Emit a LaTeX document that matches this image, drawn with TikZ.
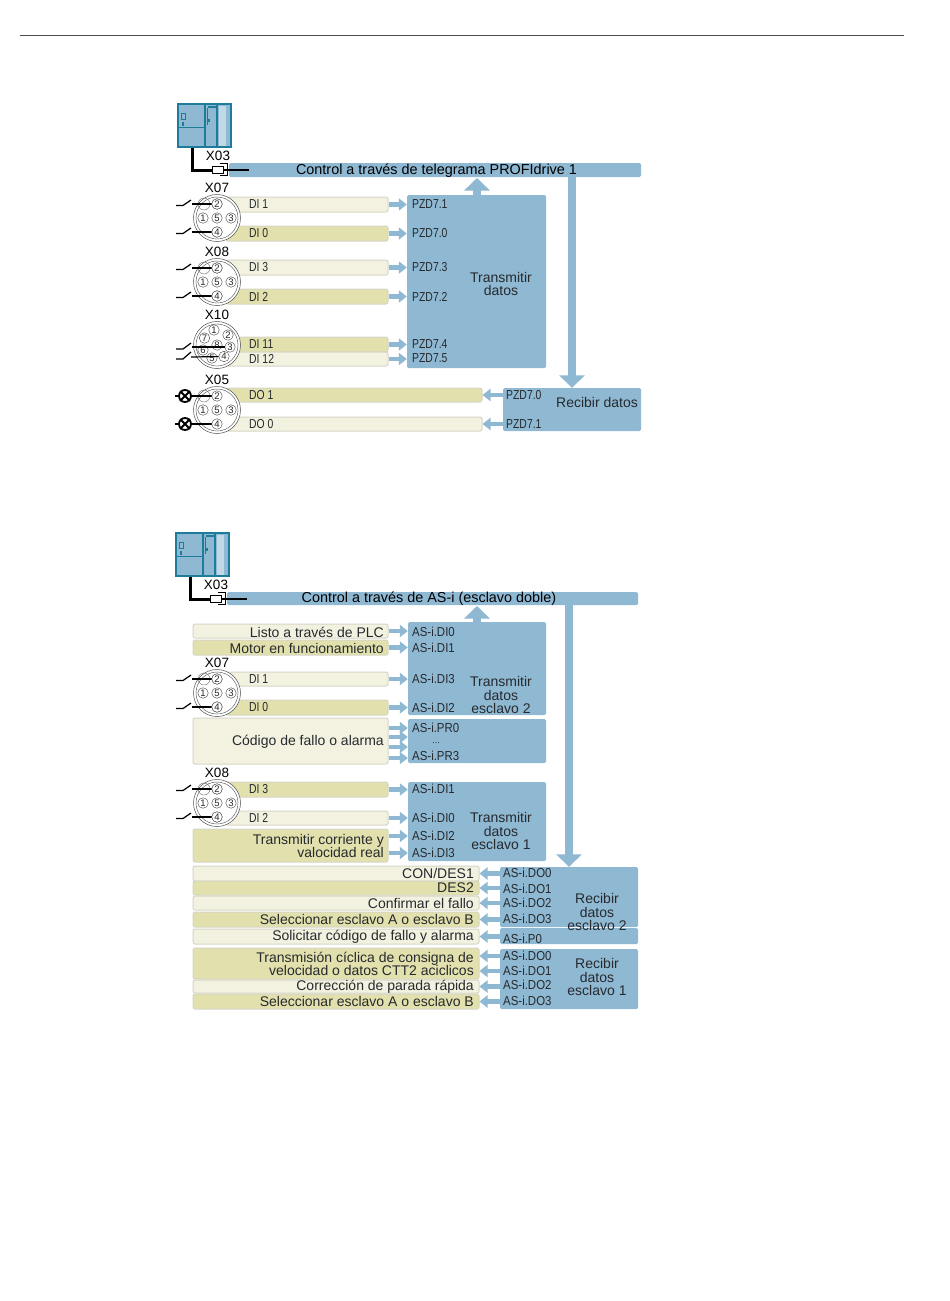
\documentclass[tikz,border=0pt]{standalone}
\usepackage{fontspec}
\setmainfont{Liberation Sans}
\newfontfamily\narrowf[FakeStretch=0.8]{Liberation Sans}
\newfontfamily\midf[FakeStretch=0.88]{Liberation Sans}
\usetikzlibrary{arrows.meta}
\definecolor{bblue}{HTML}{8FB8D2}
\definecolor{bteal}{HTML}{1C7C99}
\definecolor{lightbar}{HTML}{F3F2E0}
\definecolor{darkbar}{HTML}{E2E0AC}
\definecolor{barline}{HTML}{D6D6C8}
\definecolor{ink}{HTML}{262A2E}
\tikzset{
  x=1pt,y=-1pt,
  blue box/.style={fill=bblue,draw=none,rounded corners=1.5pt,inner sep=0pt},
  lbar/.style={fill=lightbar,draw=barline,line width=1pt,rounded corners=2pt,inner sep=0pt},
  dbar/.style={fill=darkbar,draw=barline,line width=1pt,rounded corners=2pt,inner sep=0pt},
  big/.style={text=ink,inner sep=0pt,font=\fontsize{14}{13.8}\selectfont,align=center},
  rtxt/.style={big,anchor=east,align=right},
  ctext/.style={text=black,inner sep=0pt,font=\fontsize{14.4}{14.4}\selectfont},
  ttl/.style={text=black,inner sep=0pt,font=\fontsize{13.5}{14}\selectfont},
  sml/.style={text=ink,inner sep=0pt,anchor=west,font=\narrowf\fontsize{13}{13}\selectfont},
  asl/.style={text=ink,inner sep=0pt,anchor=west,font=\midf\fontsize{13}{13}\selectfont},
  flow/.style={draw=bblue,line width=4.5pt,-{Triangle[width=12pt,length=8pt]},shorten >=0pt},
  fat/.style={draw=bblue,line width=8pt,-{Triangle[width=25pt,length=12.5pt]}},
  pin/.style={circle,draw=black!75,line width=.4pt,fill=white,inner sep=0pt,minimum size=10.5pt,text=black!85,font=\fontsize{9.5}{9.5}\selectfont},
  ring/.style={circle,draw=black!70,line width=.5pt,fill=white,inner sep=0pt},
  wire/.style={draw=black,line width=1.2pt},
  cable/.style={draw=black,line width=3pt},
}
% name, x1,y1,x2,y2, style
\newcommand{\bx}[6]{\node[#6,minimum width={(#4)-(#2)},minimum height={(#5)-(#3)},text width={}] (#1) at ({(#2+#4)/2},{(#3+#5)/2}) {};}
% switch ending at a pin
\newcommand{\swi}[3]{%name, pin, y
  \coordinate (#1) at (192,#3);
  \draw[wire] (176,#3+1.5) -- (183,#3+1.5) -- (191,#3-4);
  \draw[wire] (#1) -- (#2.center);
  \node[pin] at (#2) {};}
% lamp ending at a pin
\newcommand{\lamp}[3]{%name, pin, y
  \node[circle,draw=black,line width=1.8pt,minimum size=12pt,inner sep=0pt] (#1) at (185,#3) {};
  \draw[black,line width=1.8pt] (#1.north west) -- (#1.south east) (#1.north east) -- (#1.south west);
  \draw[wire] (175,#3) -- (#1.west);
  \draw[wire] (#1.east) -- (#2.center);}
% 5 pin connector: name, centre y, title
\newcommand{\fivepin}[3]{%
  \node[ring,minimum size=47pt] (#1) at (217,#2) {};
  \node[circle,draw=black!70,line width=.4pt,inner sep=0pt,minimum size=42pt] (#1i) at (217,#2) {};
  \draw[black!60,line width=.4pt] (204,#2-14) circle (6);
  \node[pin,draw=none,fill=none] (#1p2) at (217,#2-14) {};
  \node[pin] (#1p1) at (203,#2) {1};
  \node[pin] (#1p5) at (217,#2) {5};
  \node[pin] (#1p3) at (231,#2) {3};
  \node[pin,draw=none,fill=none] (#1p4) at (217,#2+14) {};
  \node[ttl] (#1t) at (217,#2-30) {#3};}
\newcommand{\pinnums}[1]{%
  \node[pin] at (#1p2) {2};
  \node[pin] at (#1p4) {4};}
% PLC with its cable and plug, dx, dy, name
\newcommand{\plc}[3]{%
\begin{scope}[shift={(#1,#2)}]
  \draw[bteal,line width=1.6pt,fill=bblue] (178,104) rectangle (231,147);
  \fill[bblue!55!white] (219,106) rectangle (226,146);
  \draw[bteal,line width=1.2pt] (205,104) -- (205,147) (217,104) -- (217,147);
  \draw[bteal,line width=.6pt] (178,127) -- (205,127);
  \draw[bteal,line width=1.2pt] (208,107) -- (217,107);
  \draw[bteal,line width=.5pt] (207.5,108) -- (207.5,125) (181,113) rectangle (185,119) (182,122) rectangle (183.5,125);
  \fill[bteal] (207,119) rectangle (210,122);
  \coordinate (#3o) at (192,148);
  \coordinate (#3e) at (249,170);
  \node[draw=black,fill=white,line width=1pt,minimum width=11pt,minimum height=7pt,inner sep=0pt] (#3p) at (217.5,170) {};
  \draw[black,line width=1pt] (#3p.north east) ++(-4,-2.5) -- ++(8,0) -- ++(0,12) -- ++(-8,0);
  \draw[cable] (#3o) |- (#3p.west);
  \draw[black,line width=2pt] (#3p.east) -- (#3e);
  \node[ttl] (#3x) at (218,156) {X03};
\end{scope}}
\begin{document}
\begin{tikzpicture}
\useasboundingbox (0,0) rectangle (950,1301);
\fill[white] (0,0) rectangle (950,1301);
\coordinate (topa) at (20,35); \coordinate (topb) at (904,35);
\draw[black!70,line width=.8pt] (topa) -- (topb);

%%%% TOP DIAGRAM
\bx{bus}{229}{163}{641}{177}{blue box}
\plc{0}{0}{a}
\node[ctext] (bust) at (436.5,170.5) {Control a través de telegrama PROFIdrive 1};
\bx{tx}{407}{195}{546}{368}{blue box}
\bx{rx}{503}{388}{641}{431}{blue box}
\node[big] (txt) at (501,284) {Transmitir\\datos};
\node[big] (rxt) at (597,402) {Recibir datos};
\draw[fat] (tx.north -| 477,0) -- (477,178);
\draw[fat] (572,177) -- (rx.north -| 572,0);

\bx{b1}{226}{197}{388}{212}{lbar}
\bx{b0}{226}{226}{388}{241}{dbar}
\bx{b3}{226}{260}{388}{275}{lbar}
\bx{b2}{226}{289}{388}{304}{dbar}
\bx{b11}{226}{337}{388}{352}{dbar}
\bx{b12}{226}{352}{388}{366}{lbar}
\bx{d1}{226}{388}{482}{402}{dbar}
\bx{d0}{226}{417}{482}{431}{lbar}

\foreach \n/\t/\y in {a/DI 1/204.5,c/DI 0/233.5,e/DI 3/267.5,f/DI 2/296.5,g/DI 11/344.5,h/DI 12/358.5,i/DO 1/395,j/DO 0/424}
  \node[sml] (l\n) at (249,\y) {\t};
\foreach \n/\t/\y in {a/PZD7.1/204,b/PZD7.0/233,c/PZD7.3/267.5,d/PZD7.2/296.5,e/PZD7.4/344.5,f/PZD7.5/358.5}
  \node[sml] (p\n) at (412,\y) {\t};
\node[sml] (pg) at (506,395) {PZD7.0};
\node[sml] (ph) at (506,424) {PZD7.1};
\foreach \b in {b1,b0,b3,b2,b11,b12}
  \draw[flow] (\b.east) -- (\b.east -| tx.west);
\draw[flow] (rx.west |- d1.east) ++(2,0) -- (d1.east);
\draw[flow] (rx.west |- d0.east) ++(2,0) -- (d0.east);

\fivepin{x7}{218}{X07}
\swi{s1}{x7p2}{204}
\swi{s2}{x7p4}{232}
\pinnums{x7}
\fivepin{x8}{282}{X08}
\swi{s3}{x8p2}{268}
\swi{s4}{x8p4}{296}
\pinnums{x8}

% X10
\node[ring,minimum size=47pt] (x10) at (217,345) {};
\node[circle,draw=black!70,line width=.4pt,inner sep=0pt,minimum size=42pt] (x10i) at (217,345) {};
\node[ttl] (x10t) at (217,315) {X10};
\foreach \n/\x/\y in {1/214/330,2/228/335,7/204.5/338,8/217/345,6/203/350,5/212/358}
  \node[pin] (q\n) at (\x,\y) {\n};
\node[pin] (q3) at (230,347) {3};
\node[pin] (q4) at (224,356.5) {4};
\coordinate (s5) at (192,347);
\coordinate (s6) at (191,357);
\draw[wire] (176,349) -- (183,349) -- (191,343);
\draw[wire] (176,359) -- (183,359) -- (191,352);
\draw[wire] (s5) -- (q3);
\draw[wire] (s6) -- (q4);

\fivepin{x5}{410}{X05}
\lamp{m1}{x5p2}{396}
\lamp{m2}{x5p4}{424}
\pinnums{x5}

%%%% BOTTOM DIAGRAM
\bx{Bbus}{227}{592}{638}{605}{blue box}
\plc{-2}{429}{z}
\node[ctext] (Bbust) at (429,599) {Control a través de AS-i (esclavo doble)};
\bx{T2}{408}{622}{546}{715}{blue box}
\bx{TP}{408}{719}{546}{763}{blue box}
\bx{T1}{408}{782}{546}{861}{blue box}
\bx{R2}{500}{867}{638}{927}{blue box}
\bx{RP}{500}{928}{638}{944}{blue box}
\bx{R1}{500}{949}{638}{1009}{blue box}
\node[big] (T2t) at (501,695) {Transmitir\\datos\\esclavo 2};
\node[big] (T1t) at (501,831) {Transmitir\\datos\\esclavo 1};
\node[big] (R2t) at (597,912) {Recibir\\datos\\esclavo 2};
\node[big] (R1t) at (597,977) {Recibir\\datos\\esclavo 1};
\draw[fat] (T2.north -| 477,0) -- (477,606);
\draw[fat] (569,605) -- (R2.north -| 569,0);

\bx{B1}{193}{624}{388}{638}{lbar}
\bx{B2}{193}{640}{388}{655}{dbar}
\bx{B3}{226}{672}{388}{686}{lbar}
\bx{B4}{226}{700}{388}{715}{dbar}
\bx{B5}{193}{718}{388}{764}{lbar}
\bx{B6}{226}{782}{388}{797}{dbar}
\bx{B7}{226}{811}{388}{825}{lbar}
\bx{B8}{193}{829}{388}{862}{dbar}
\bx{C1}{193}{866}{479}{881}{lbar}
\bx{C2}{193}{881}{479}{895}{dbar}
\bx{C3}{193}{896}{479}{910}{lbar}
\bx{C4}{193}{912}{479}{927}{dbar}
\bx{C5}{193}{929}{479}{944}{lbar}
\bx{C6}{193}{948}{479}{979}{dbar}
\bx{C7}{193}{980}{479}{993}{lbar}
\bx{C8}{193}{994}{479}{1009}{dbar}

\node[rtxt] (tB1) at (384,632) {Listo a través de PLC};
\node[rtxt] (tB2) at (384,648.5) {Motor en funcionamiento};
\node[sml] (tB3) at (249,679) {DI 1};
\node[sml] (tB4) at (249,707.5) {DI 0};
\node[rtxt] (tB5) at (384,741.5) {Código de fallo o alarma};
\node[sml] (tB6) at (249,789.5) {DI 3};
\node[sml] (tB7) at (249,818) {DI 2};
\node[rtxt] (tB8) at (384,846) {Transmitir corriente y\\valocidad real};
\node[rtxt] (tC1) at (474,873.5) {CON/DES1};
\node[rtxt] (tC2) at (474,888) {DES2};
\node[rtxt] (tC3) at (474,903) {Confirmar el fallo};
\node[rtxt] (tC4) at (474,919) {Seleccionar esclavo A o esclavo B};
\node[rtxt] (tC5) at (474,937) {Solicitar código de fallo y alarma};
\node[rtxt] (tC6) at (474,964) {Transmisión cíclica de consigna de\\velocidad o datos CTT2 aciclicos};
\node[rtxt] (tC7) at (474,986.5) {Corrección de parada rápida};
\node[rtxt] (tC8) at (474,1001.5) {Seleccionar esclavo A o esclavo B};

\foreach \n/\t/\y in {a/AS-i.DI0/632,b/AS-i.DI1/648,c/AS-i.DI3/679,d/AS-i.DI2/708,e/AS-i.PR0/728,g/AS-i.PR3/756,h/AS-i.DI1/789,i/AS-i.DI0/818,j/AS-i.DI2/836,k/AS-i.DI3/853}
  \node[asl] (A\n) at (412,\y) {\t};
\node[text=ink,inner sep=0pt,font=\fontsize{9}{9}\selectfont] (Af) at (436,743) {...};
\foreach \n/\t/\y in {a/AS-i.DO0/873,b/AS-i.DO1/889,c/AS-i.DO2/903,d/AS-i.DO3/919,e/AS-i.P0/938.5,f/AS-i.DO0/956,g/AS-i.DO1/971,h/AS-i.DO2/985,i/AS-i.DO3/1001}
  \node[asl] (D\n) at (503,\y) {\t};

\foreach \b/\a in {B1/T2,B2/T2,B3/T2,B4/T2,B6/T1,B7/T1}
  \draw[flow] (\b.east) -- (\b.east -| \a.west);
\foreach \y in {728,737,747,758}
  \draw[flow] (B5.east |- 0,\y) -- (TP.west |- 0,\y);
\foreach \y in {836,853}
  \draw[flow] (B8.east |- 0,\y) -- (T1.west |- 0,\y);
\foreach \b/\r in {C1/R2,C2/R2,C3/R2,C4/R2,C5/RP,C7/R1,C8/R1}
  \draw[flow] (\r.west |- \b.east) ++(2,0) -- (\b.east);
\foreach \y in {956,971}
  \draw[flow] (R1.west |- 0,\y) ++(2,0) -- (C6.east |- 0,\y);

\fivepin{y7}{693}{X07}
\swi{s7}{y7p2}{679}
\swi{s8}{y7p4}{707}
\pinnums{y7}
\fivepin{y8}{803}{X08}
\swi{s9}{y8p2}{789}
\swi{s10}{y8p4}{817}
\pinnums{y8}
\end{tikzpicture}
\end{document}
